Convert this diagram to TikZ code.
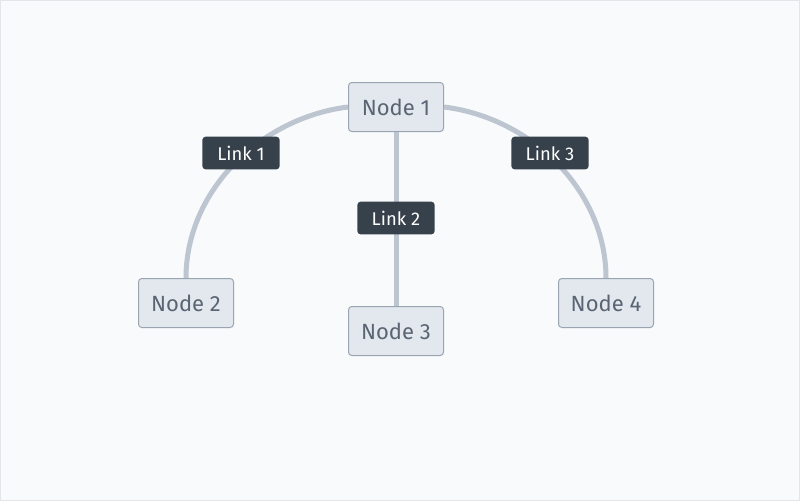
\documentclass[tikz,border=0pt]{standalone}
\usepackage{fontspec}
\setmainfont{Fira Sans}
\usetikzlibrary{positioning,calc}
\definecolor{canvasbg}{HTML}{F8FAFC}
\definecolor{canvasline}{HTML}{E3E5E8}
\definecolor{nodefill}{HTML}{E2E8EE}
\definecolor{nodeline}{HTML}{9AA5B1}
\definecolor{nodetext}{HTML}{5A6472}
\definecolor{edgecol}{HTML}{BCC5D0}
\definecolor{linkfill}{HTML}{37414B}
\tikzset{
    x=0.75pt,
    y=-0.75pt,
    topic/.style = {
        draw=nodeline,
        fill=nodefill,
        text=nodetext,
        shape=rectangle,
        rounded corners=2.5pt,
        minimum height=36.75pt,
        minimum width=71.25pt,
        line width=0.75pt,
        font=\fontsize{16.5}{18}\selectfont
    },
    linklabel/.style = {
        fill=linkfill,
        text=white,
        shape=rectangle,
        rounded corners=2.5pt,
        minimum height=24.5pt,
        minimum width=58pt,
        font=\fontsize{13.8}{15}\selectfont
    },
    connector/.style = {
        draw=edgecol,
        line width=3.75pt
    },
}
\begin{document}
\begin{tikzpicture}
            \path[fill=canvasbg, draw=canvasline, line width=0.75pt] (0.5,0.5) rectangle (799.5,500.5);
            \useasboundingbox (0,0) rectangle (800,501);

            \node[topic] (n1) at (396,107) {Node 1};
            \node[topic] (n2) at (186,303) {Node 2};
            \node[topic] (n3) at (396,331) {Node 3};
            \node[topic] (n4) at (606,303) {Node 4};

            \path[connector] (n1.west) to[out=187,in=90,looseness=0.95] (n2.north);
            \path[connector] (n1.south) -- (n3.north);
            \path[connector] (n1.east) to[out=-7,in=90,looseness=0.95] (n4.north);

            % labels sit on top of the lines
            \node[linklabel] (l1) at (241,153) {Link 1};
            \node[linklabel] (l2) at (396,218) {Link 2};
            \node[linklabel] (l3) at (550,153) {Link 3};
        \end{tikzpicture}
\end{document}
